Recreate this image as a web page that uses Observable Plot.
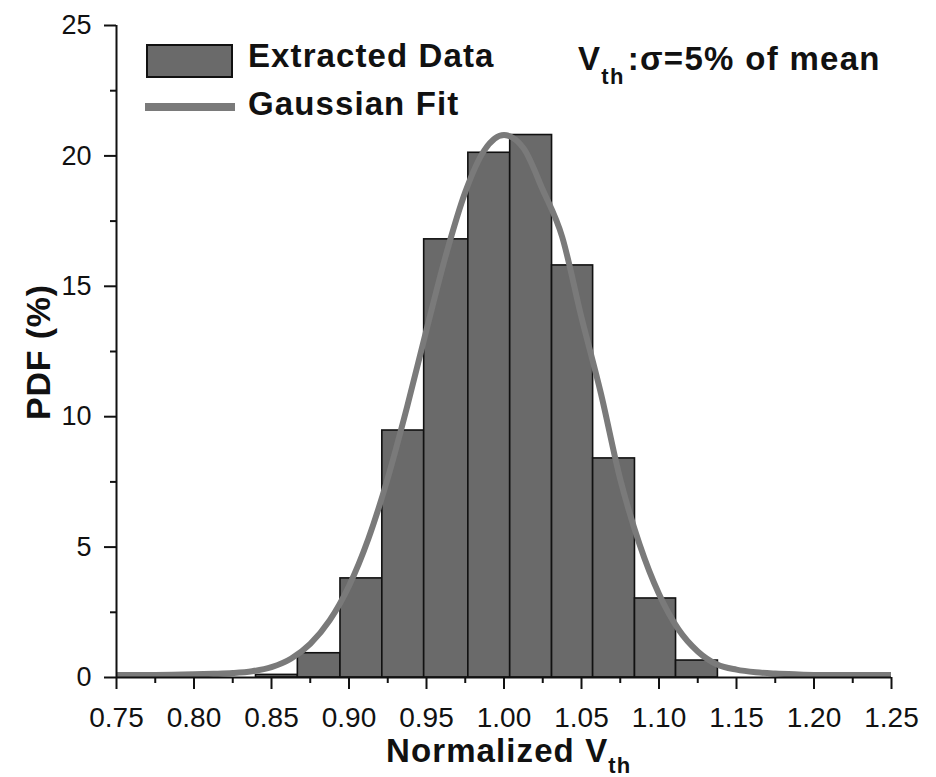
<!DOCTYPE html>
<html>
<head>
<meta charset="utf-8">
<script src="https://cdn.jsdelivr.net/npm/d3@7"></script>
<script src="https://cdn.jsdelivr.net/npm/@observablehq/plot@0.6"></script>
<style>
  body { margin: 0; background: white; }
  #wrap { position: relative; width: 936px; height: 777px; }
  #overlay { position: absolute; left: 0; top: 0; pointer-events: none; }
  #overlay text { font-family: "Liberation Sans", Arial, sans-serif; font-weight: bold; fill: #111; }
</style>
</head>
<body>
<div id="wrap"></div>
<script>
// Histogram bins (normalized Vth) and PDF (%)
const binStart = [0.840, 0.867, 0.8945, 0.9215, 0.9485, 0.977, 1.004, 1.031, 1.0575, 1.0845, 1.111];
const binEnd   = [0.867, 0.8945, 0.9215, 0.9485, 0.977, 1.004, 1.031, 1.0575, 1.0845, 1.111, 1.138];
const pdfValues = [0.1, 0.93, 3.8, 9.47, 16.8, 20.12, 20.8, 15.8, 8.4, 3.03, 0.65];

// Gaussian fit curve
const fitX = [0.750, 0.775, 0.800, 0.8125, 0.825, 0.8375, 0.850, 0.8625, 0.875, 0.8875, 0.900, 0.9125, 0.925, 0.9375, 0.950, 0.9625, 0.975, 0.9875, 1.000,
              1.0125, 1.025, 1.0375, 1.050, 1.0625, 1.075, 1.0875, 1.100, 1.1125, 1.125, 1.1375, 1.150, 1.1625, 1.175, 1.1875, 1.200, 1.225, 1.250];
const fitY = [0.10, 0.10, 0.12, 0.14, 0.17, 0.24, 0.40, 0.72, 1.29, 2.19, 3.51, 5.32, 7.64, 10.38, 13.33, 16.19, 18.61, 20.23, 20.8,
              20.3, 18.7, 16.9, 13.8, 10.9, 7.6, 5.1, 3.2, 1.85, 1.0, 0.5, 0.3, 0.2, 0.15, 0.12, 0.10, 0.10, 0.10];

// Axis ticks
const xMajor = [0.75, 0.80, 0.85, 0.90, 0.95, 1.00, 1.05, 1.10, 1.15, 1.20, 1.25];
const xMinor = [0.775, 0.825, 0.875, 0.925, 0.975, 1.025, 1.075, 1.125, 1.175, 1.225];
const yMajor = [0, 5, 10, 15, 20, 25];
const yMinor = [2.5, 7.5, 12.5, 17.5, 22.5];

const bins = binStart.map((s, i) => ({x1: s, x2: binEnd[i], pdf: pdfValues[i]}));
const fit = fitX.map((x, i) => ({x, y: fitY[i]}));

const barFill = "#6a6a6a";
const fitColor = "#7a7a7a";

const chart = Plot.plot({
  width: 936,
  height: 777,
  marginLeft: 116,
  marginRight: 45,
  marginTop: 25,
  marginBottom: 100,
  style: {fontFamily: "'Liberation Sans', Arial, sans-serif", fontSize: "28px", background: "white", color: "#111"},
  x: {domain: [0.75, 1.25]},
  y: {domain: [0, 25]},
  marks: [
    Plot.rectY(bins, {x1: "x1", x2: "x2", y: "pdf", fill: barFill, stroke: "#111", strokeWidth: 1.6}),
    Plot.line(fit, {x: "x", y: "y", stroke: fitColor, strokeWidth: 6, curve: "monotone-x", clip: true}),
    Plot.axisX({ticks: xMajor, tickSize: 12, tickPadding: 18, tickFormat: d => d.toFixed(2), label: null, strokeWidth: 2, fontSize: 28}),
    Plot.axisX({ticks: xMinor, tickSize: 6, tickFormat: () => "", label: null, strokeWidth: 2}),
    Plot.axisY({ticks: yMajor, tickSize: 12, tickPadding: 13, tickFormat: d => String(d), label: null, strokeWidth: 2, fontSize: 27}),
    Plot.axisY({ticks: yMinor, tickSize: 6, tickFormat: () => "", label: null, strokeWidth: 2}),
    Plot.ruleY([0], {stroke: "#111", strokeWidth: 2}),
    Plot.ruleX([0.75], {stroke: "#111", strokeWidth: 2})
  ]
});

const wrap = document.getElementById("wrap");
wrap.appendChild(chart);

// Legend, annotation and axis titles overlay
const ov = d3.create("svg").attr("id", "overlay").attr("width", 936).attr("height", 777);
ov.append("rect").attr("x", 147).attr("y", 45).attr("width", 85).attr("height", 32)
  .attr("fill", barFill).attr("stroke", "#111").attr("stroke-width", 2);
ov.append("line").attr("x1", 145).attr("x2", 235).attr("y1", 107).attr("y2", 107)
  .attr("stroke", fitColor).attr("stroke-width", 8);
ov.append("text").attr("x", 248).attr("y", 67).attr("font-size", 33).attr("letter-spacing", 1.1).text("Extracted Data");
ov.append("text").attr("x", 248).attr("y", 115).attr("font-size", 33).attr("letter-spacing", 1.1).text("Gaussian Fit");

const ann = ov.append("text").attr("x", 578).attr("y", 70).attr("font-size", 33).attr("letter-spacing", 1.3);
ann.append("tspan").text("V");
ann.append("tspan").attr("font-size", 22).attr("dy", 14).text("th");
ann.append("tspan").attr("dy", -14).attr("dx", 3).text(":σ=5% of mean");

ov.append("text").attr("transform", "translate(50,352) rotate(-90)").attr("text-anchor", "middle")
  .attr("font-size", 34).attr("letter-spacing", 0.8).text("PDF (%)");

const xt = ov.append("text").attr("x", 386).attr("y", 762).attr("font-size", 33).attr("letter-spacing", 1.1);
xt.append("tspan").text("Normalized V");
xt.append("tspan").attr("font-size", 22).attr("dy", 11).text("th");

wrap.appendChild(ov.node());
</script>
</body>
</html>
